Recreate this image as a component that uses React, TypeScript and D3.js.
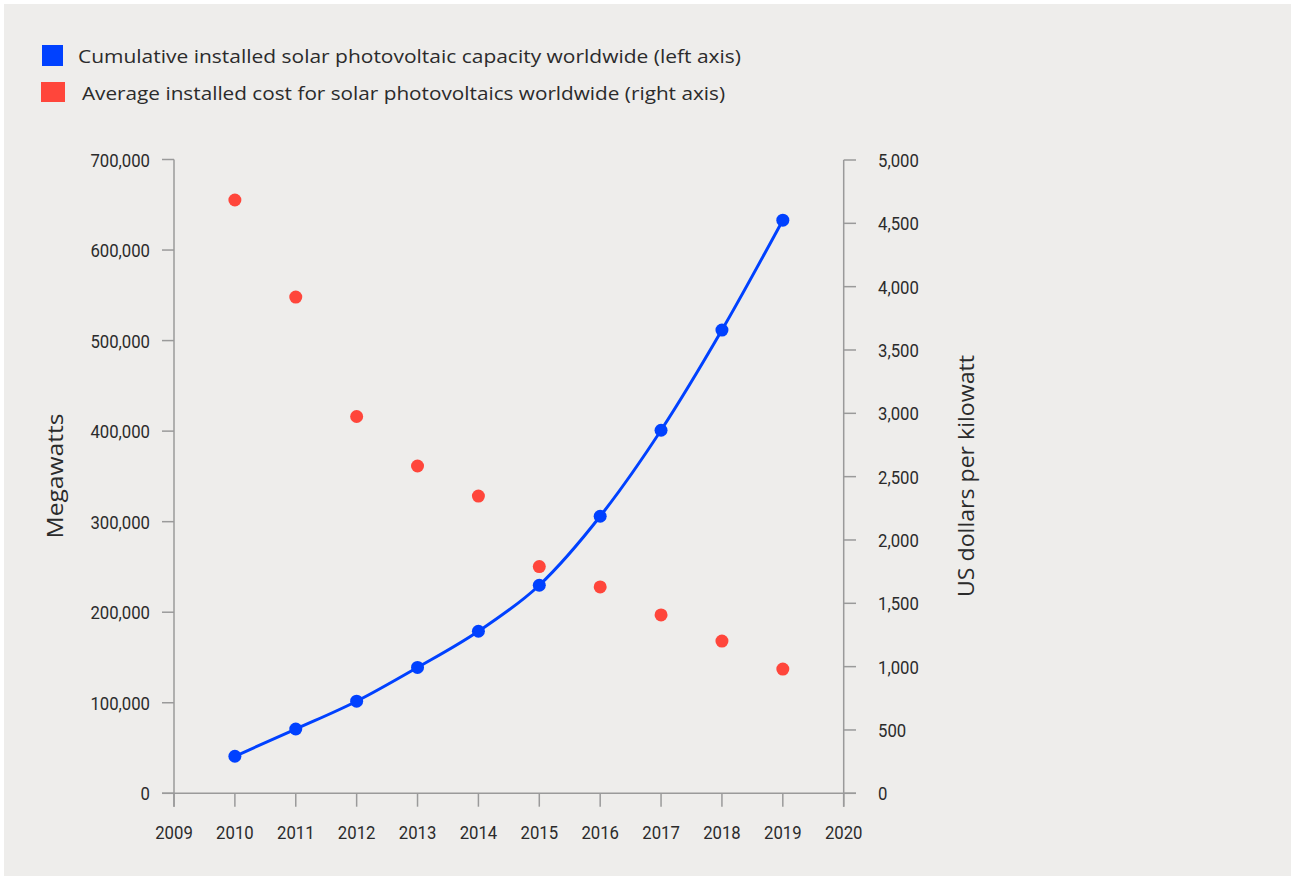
import React from "react";
import * as d3 from "d3";

const years = [2010, 2011, 2012, 2013, 2014, 2015, 2016, 2017, 2018, 2019];
const capacityMW = [40900, 71000, 101700, 139000, 179000, 229800, 306000, 401000, 511600, 633000];
const costUSDperKW = [4684, 3918, 2975, 2584, 2347, 1790, 1629, 1408, 1202, 981];
const xTickYears = [2009, 2010, 2011, 2012, 2013, 2014, 2015, 2016, 2017, 2018, 2019, 2020];
const leftTicks = [0, 100000, 200000, 300000, 400000, 500000, 600000, 700000];
const rightTicks = [0, 500, 1000, 1500, 2000, 2500, 3000, 3500, 4000, 4500, 5000];
const legendLabels = [
  "Cumulative installed solar photovoltaic capacity worldwide (left axis)",
  "Average installed cost for solar photovoltaics worldwide (right axis)",
];

const W = 1295;
const H = 880;
const BLUE = "#0041FF";
const RED = "#FF463B";
const AXIS = "#9a9a9a";
const TXT = "#2b2b2b";
const BG = "#EEEDEB";

export default function App() {
  const x = d3.scaleLinear().domain([2009, 2020]).range([174, 843.7]);
  const yL = d3.scaleLinear().domain([0, 700000]).range([793.3, 159.5]);
  const yR = d3.scaleLinear().domain([0, 5000]).range([793.3, 160]);
  const fmt = d3.format(",");
  const line = d3
    .line<number>()
    .x((_, i) => x(years[i]))
    .y((d) => yL(d))
    .curve(d3.curveMonotoneX);

  const tickFont = "Roboto, 'Noto Sans', sans-serif";
  const labelFont = "'Open Sans', 'Noto Sans', sans-serif";
  const axisBottom = 806.7;
  const sx = 0.88;

  const tickText = (tx: number, ty: number, anchor: string, s: string, key: string) => (
    <text
      key={key}
      transform={`translate(${tx},${ty}) scale(${sx},1)`}
      textAnchor={anchor}
      fontFamily={tickFont}
      fontSize={19}
      fill={TXT}
    >
      {s}
    </text>
  );

  return (
    <div style={{ position: "absolute", left: 0, top: 0, width: W, height: H, background: "#fff" }}>
      <svg width={W} height={H} style={{ display: "block" }}>
        <rect x={4} y={4} width={W - 8} height={H - 8} fill={BG} />

        {/* legend */}
        <rect x={42} y={45} width={21} height={21} fill={BLUE} />
        <text x={78} y={63} fontFamily={labelFont} fontSize={18.5} fill={TXT} textLength={663} lengthAdjust="spacingAndGlyphs">
          {legendLabels[0]}
        </text>
        <rect x={41} y={82} width={24} height={20} fill={RED} />
        <text x={82} y={100} fontFamily={labelFont} fontSize={18.5} fill={TXT} textLength={643} lengthAdjust="spacingAndGlyphs">
          {legendLabels[1]}
        </text>

        {/* left axis */}
        <line x1={x(2009)} x2={x(2009)} y1={yL(700000)} y2={axisBottom} stroke={AXIS} strokeWidth={1.5} />
        {leftTicks.map((t) => (
          <g key={"l" + t}>
            <line x1={162} x2={x(2009)} y1={yL(t)} y2={yL(t)} stroke={AXIS} strokeWidth={1.5} />
            {tickText(150, yL(t) + 7, "end", fmt(t), "lt" + t)}
          </g>
        ))}

        {/* right axis */}
        <line x1={x(2020)} x2={x(2020)} y1={yR(5000)} y2={axisBottom} stroke={AXIS} strokeWidth={1.5} />
        {rightTicks.map((t) => (
          <g key={"r" + t}>
            <line x1={x(2020)} x2={856} y1={yR(t)} y2={yR(t)} stroke={AXIS} strokeWidth={1.5} />
            {tickText(878, yR(t) + 7, "start", fmt(t), "rt" + t)}
          </g>
        ))}

        {/* bottom axis */}
        <line x1={162} x2={856} y1={yL(0)} y2={yL(0)} stroke={AXIS} strokeWidth={1.5} />
        {xTickYears.map((t) => (
          <g key={"x" + t}>
            <line x1={x(t)} x2={x(t)} y1={yL(0)} y2={axisBottom} stroke={AXIS} strokeWidth={1.5} />
            {tickText(x(t), 839, "middle", String(t), "xt" + t)}
          </g>
        ))}

        {/* axis titles */}
        <text
          transform={`translate(63,476) rotate(-90)`}
          textAnchor="middle"
          fontFamily={labelFont}
          fontSize={22}
          fill={TXT}
          textLength={125}
          lengthAdjust="spacingAndGlyphs"
        >
          Megawatts
        </text>
        <text
          transform={`translate(974,476) rotate(-90)`}
          textAnchor="middle"
          fontFamily={labelFont}
          fontSize={22}
          fill={TXT}
          textLength={242}
          lengthAdjust="spacingAndGlyphs"
        >
          US dollars per kilowatt
        </text>

        {/* blue line and points */}
        <path d={line(capacityMW) || ""} fill="none" stroke={BLUE} strokeWidth={3} />
        {capacityMW.map((v, i) => (
          <circle key={"b" + i} cx={x(years[i])} cy={yL(v)} r={6.5} fill={BLUE} />
        ))}

        {/* red points */}
        {costUSDperKW.map((v, i) => (
          <circle key={"c" + i} cx={x(years[i])} cy={yR(v)} r={6.5} fill={RED} />
        ))}
      </svg>
    </div>
  );
}
